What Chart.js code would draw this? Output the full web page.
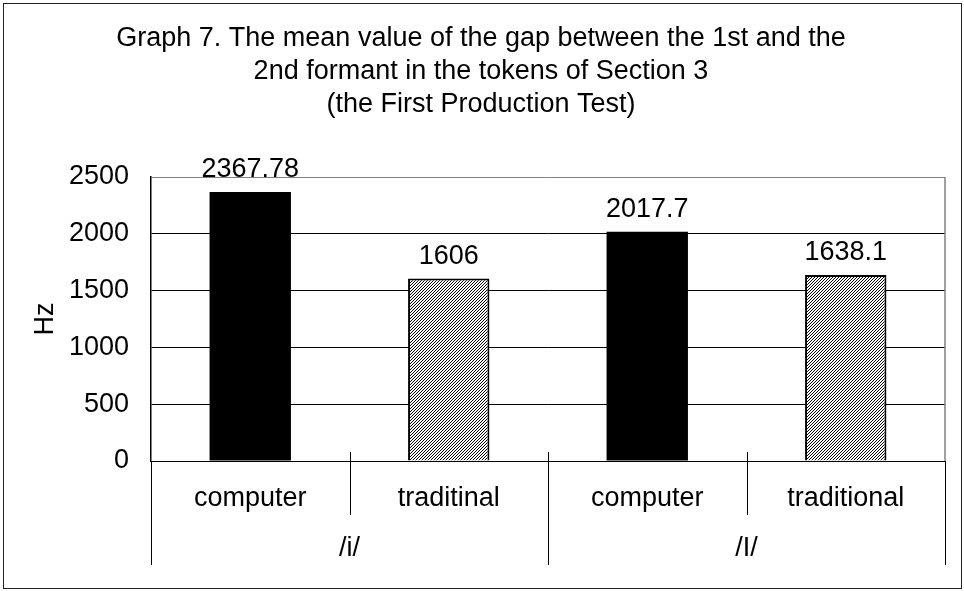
<!DOCTYPE html>
<html>
<head>
<meta charset="utf-8">
<script src="https://cdn.jsdelivr.net/npm/chart.js@4"></script>
<style>
  html, body { margin: 0; padding: 0; background: #fff; }
  canvas { display: block; }
</style>
</head>
<body>
<canvas id="gapChart" width="964" height="591"></canvas>
<script>
// data
const categories = ['computer', 'traditinal', 'computer', 'traditional'];
const groups = ['/i/', '/I/'];
const gapValues = [2367.78, 1606, 2017.7, 1638.1];
const valueLabels = ['2367.78', '1606', '2017.7', '1638.1'];
const yTicks = [0, 500, 1000, 1500, 2000, 2500];
const titleLines = [
  'Graph 7. The mean value of the gap between the 1st and the',
  '2nd formant in the tokens of Section 3',
  '(the First Production Test)'
];

const FONT = '"Liberation Sans", Arial, sans-serif';
const SIZE = 27;

// hatched fill for the "traditional" bars
function makeHatch() {
  const c = document.createElement('canvas');
  c.width = 3; c.height = 3;
  const g = c.getContext('2d');
  g.fillStyle = '#fff';
  g.fillRect(0, 0, 3, 3);
  g.strokeStyle = '#000';
  g.lineWidth = 1;
  g.beginPath();
  g.moveTo(-1, 4); g.lineTo(4, -1);
  g.moveTo(-1, 1); g.lineTo(1, -1);
  g.moveTo(2, 4); g.lineTo(4, 2);
  g.stroke();
  return g.createPattern(c, 'repeat');
}
const hatch = makeHatch();

// title, value labels, two-level category axis, borders
const extras = {
  id: 'extras',
  afterDraw(chart) {
    const { ctx, chartArea: a, scales: { x } } = chart;
    ctx.save();

    // outer frame
    ctx.strokeStyle = '#222';
    ctx.lineWidth = 1;
    ctx.strokeRect(3.5, 3.5, 958, 585);

    // title
    ctx.fillStyle = '#000';
    ctx.font = SIZE + 'px ' + FONT;
    ctx.textAlign = 'center';
    ctx.textBaseline = 'alphabetic';
    titleLines.forEach((t, i) => ctx.fillText(t, 481, 46 + i * 33));

    // right border of plot area
    ctx.strokeStyle = '#808080';
    ctx.lineWidth = 1.5;
    ctx.beginPath();
    ctx.moveTo(a.right, a.top);
    ctx.lineTo(a.right, a.bottom);
    ctx.stroke();

    // value labels above bars
    const meta = chart.getDatasetMeta(0);
    ctx.fillStyle = '#000';
    meta.data.forEach((bar, i) => {
      ctx.fillText(valueLabels[i], bar.x, bar.y - 15);
    });

    // category separators and labels
    const n = categories.length;
    const step = (a.right - a.left) / n;
    ctx.strokeStyle = '#000';
    ctx.lineWidth = 1;
    for (let i = 0; i <= n; i++) {
      const px = Math.round(a.left + i * step) + 0.5;
      const isGroupEdge = i % 2 === 0;
      ctx.beginPath();
      ctx.moveTo(px, isGroupEdge && (i === 0 || i === n) ? a.bottom : a.bottom - 9);
      ctx.lineTo(px, isGroupEdge ? 565 : 515);
      ctx.stroke();
    }
    ctx.textBaseline = 'middle';
    categories.forEach((c, i) => {
      ctx.fillText(c, x.getPixelForValue(i), 499);
    });
    groups.forEach((g, i) => {
      const cx = (x.getPixelForValue(i * 2) + x.getPixelForValue(i * 2 + 1)) / 2;
      ctx.fillText(g, cx, 549);
    });

    ctx.restore();
  }
};

new Chart(document.getElementById('gapChart'), {
  type: 'bar',
  data: {
    labels: categories,
    datasets: [{
      data: gapValues,
      backgroundColor: gapValues.map((v, i) => i % 2 === 0 ? '#000' : hatch),
      borderColor: '#000',
      borderWidth: gapValues.map((v, i) => i % 2 === 0 ? 0 : 2),
      categoryPercentage: 1,
      barPercentage: 0.41
    }]
  },
  options: {
    responsive: false,
    devicePixelRatio: 1,
    animation: false,
    layout: { padding: { left: 0, top: 177, right: 19, bottom: 130 } },
    plugins: {
      legend: { display: false },
      tooltip: { enabled: false }
    },
    scales: {
      x: { display: false },
      y: {
        min: 0,
        max: 2500,
        afterFit(scale) { scale.width = 151; },
        afterBuildTicks(scale) { scale.ticks = yTicks.map(v => ({ value: v })); },
        ticks: {
          color: '#000',
          padding: 22,
          font: { family: FONT, size: SIZE },
          callback: v => String(v)
        },
        grid: {
          drawTicks: false,
          color: ctx => ctx.tick && ctx.tick.value === 2500 ? '#808080' : '#000',
          lineWidth: 1
        },
        border: { color: '#000', width: 1.5 },
        title: {
          display: true,
          text: 'Hz',
          color: '#000',
          padding: { top: 29, bottom: 0 },
          font: { family: FONT, size: SIZE }
        }
      }
    }
  },
  plugins: [extras]
});
</script>
</body>
</html>
